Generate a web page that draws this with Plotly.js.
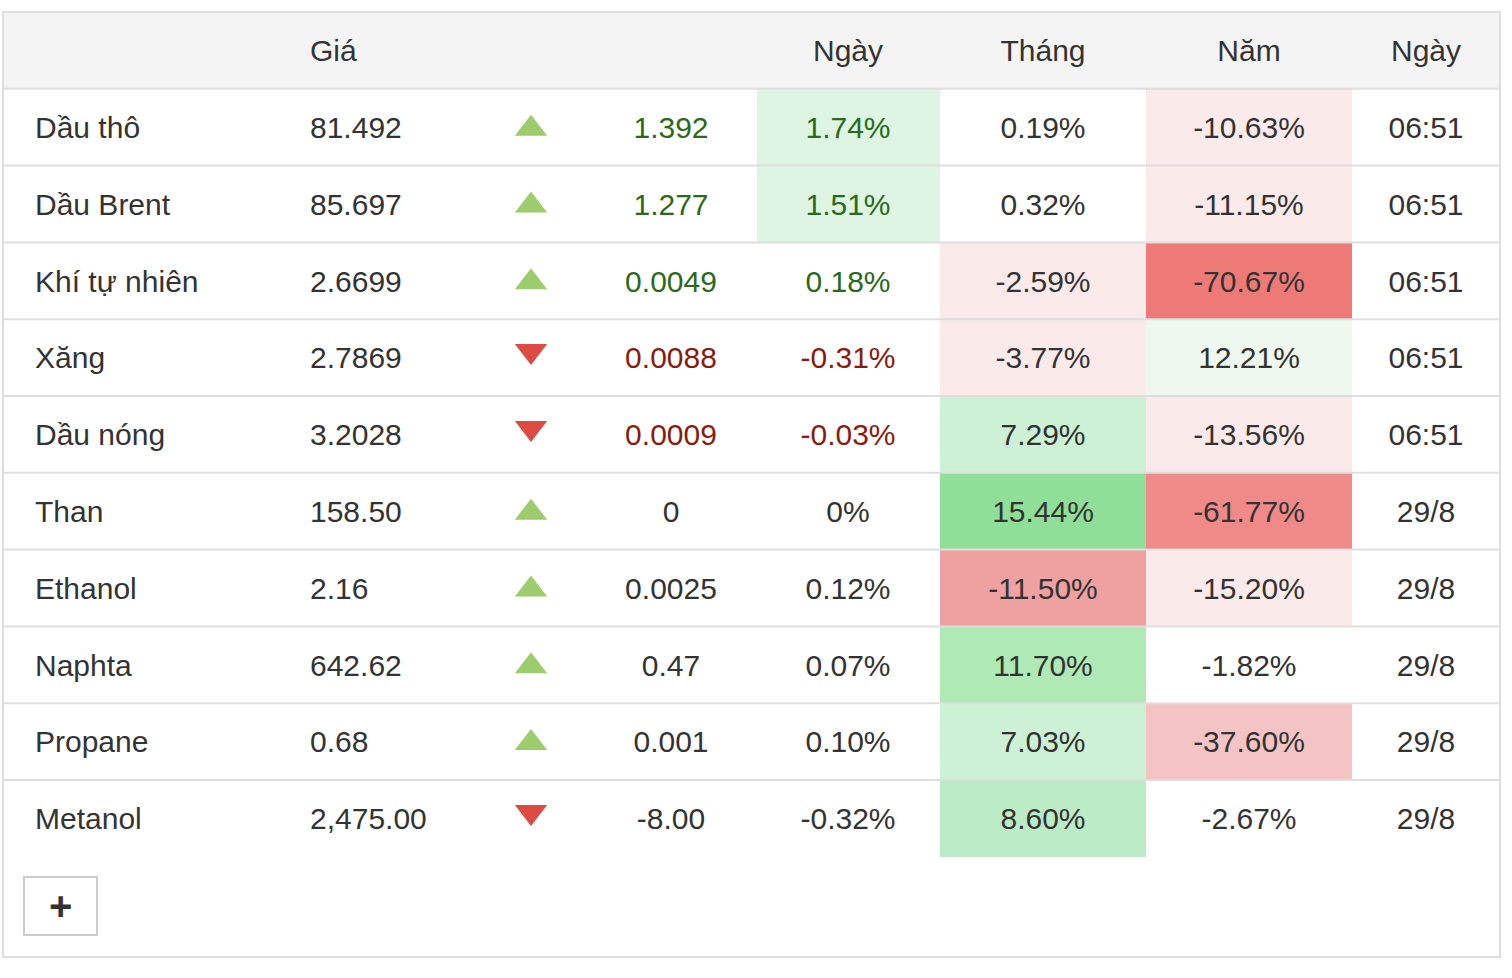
<!DOCTYPE html>
<html><head><meta charset="utf-8">
<script src="https://cdn.plot.ly/plotly-3.0.1.min.js"></script>
<style>html,body{margin:0;padding:0;background:#fff;} #chart{width:1512px;height:978px;}</style>
</head><body><div id="chart"></div>
<script>
// ---------- data ----------
const headerLabels = ['Giá', 'Ngày', 'Tháng', 'Năm', 'Ngày'];
const names = ['Dầu thô', 'Dầu Brent', 'Khí tự nhiên', 'Xăng', 'Dầu nóng', 'Than', 'Ethanol', 'Naphta', 'Propane', 'Metanol'];
const prices = ['81.492', '85.697', '2.6699', '2.7869', '3.2028', '158.50', '2.16', '642.62', '0.68', '2,475.00'];
const directions = ['up', 'up', 'up', 'down', 'down', 'up', 'up', 'up', 'up', 'down'];
const changes = ['1.392', '1.277', '0.0049', '0.0088', '0.0009', '0', '0.0025', '0.47', '0.001', '-8.00'];
const dayPct = ['1.74%', '1.51%', '0.18%', '-0.31%', '-0.03%', '0%', '0.12%', '0.07%', '0.10%', '-0.32%'];
const monthPct = ['0.19%', '0.32%', '-2.59%', '-3.77%', '7.29%', '15.44%', '-11.50%', '11.70%', '7.03%', '8.60%'];
const yearPct = ['-10.63%', '-11.15%', '-70.67%', '12.21%', '-13.56%', '-61.77%', '-15.20%', '-1.82%', '-37.60%', '-2.67%'];
const times = ['06:51', '06:51', '06:51', '06:51', '06:51', '29/8', '29/8', '29/8', '29/8', '29/8'];
const trend = ['pos', 'pos', 'pos', 'neg', 'neg', 'flat', 'flat', 'flat', 'flat', 'flat'];

// ---------- styles ----------
const WHITE = '#ffffff', HEAD = '#f4f4f4';
const dayFill = ['#ddf5e2', '#ddf5e2', WHITE, WHITE, WHITE, WHITE, WHITE, WHITE, WHITE, WHITE];
const monthFill = [WHITE, WHITE, '#fbeaea', '#fbeaea', '#ccf1d4', '#8fdf98', '#eea1a0', '#aee9b6', '#ccf1d4', '#bcecc6'];
const yearFill = ['#fbeaea', '#fbeaea', '#ee7a78', '#eef8ef', '#fbeaea', '#ef8a88', '#fbeaea', WHITE, '#f4c4c4', WHITE];
const trendColor = {pos: '#2b6a1a', neg: '#8b1a10', flat: '#333333'};
const arrowColor = {up: '#9ccc6c', down: '#dd4b45'};
const FONT = 'Liberation Sans, Arial, Helvetica, sans-serif';
const FS = 30, TXT = '#333333';

// ---------- geometry (layout only) ----------
const W = 1512, H = 978;
const L = 3, R = 1500, T = 12, B = 957;
const rowH = 76.8;
const n = names.length;
const textDy = 3.2;
const rowCenter = i => T + rowH * (i + 1) + rowH / 2;
const headCenter = T + rowH / 2;
const colX = {name: 35, price: 310, arrow: 531, change: 671, day: 848, month: 1043, year: 1249, time: 1426};
const fillEdges = [L, 757, 940, 1146, 1352, R];
const yEdges = Array.from({length: n + 2}, (_, i) => T + rowH * i);

// heatmap colour grid
const palette = [];
const idx = c => { let k = palette.indexOf(c); if (k < 0) { palette.push(c); k = palette.length - 1; } return k + 0.5; };
const z = [[HEAD, HEAD, HEAD, HEAD, HEAD].map(idx)];
for (let i = 0; i < n; i++) z.push([WHITE, dayFill[i], monthFill[i], yearFill[i], WHITE].map(idx));
const K = palette.length;
const colorscale = [];
palette.forEach((c, i) => { colorscale.push([i / K, c]); colorscale.push([(i + 1) / K, c]); });

const rowsY = names.map((_, i) => rowCenter(i) + textDy);
const textTrace = (x, text, pos, colors) => ({
  type: 'scatter', mode: 'text', x: x, y: rowsY, text: text, textposition: pos,
  textfont: {family: FONT, size: FS, color: colors}, hoverinfo: 'skip', cliponaxis: false, showlegend: false
});
const constX = v => names.map(() => v);
const trendCols = trend.map(t => trendColor[t]);

const traces = [
  {type: 'heatmap', x: fillEdges, y: yEdges, z: z, zmin: 0, zmax: K, colorscale: colorscale,
   showscale: false, hoverinfo: 'skip'},
  {type: 'scatter', mode: 'text', x: [colX.price, colX.day, colX.month, colX.year, colX.time],
   y: headerLabels.map(() => headCenter + textDy), text: headerLabels,
   textposition: ['middle right', 'middle center', 'middle center', 'middle center', 'middle center'],
   textfont: {family: FONT, size: FS, color: TXT}, hoverinfo: 'skip', cliponaxis: false, showlegend: false},
  textTrace(constX(colX.name), names, 'middle right', TXT),
  textTrace(constX(colX.price), prices, 'middle right', TXT),
  {type: 'scatter', mode: 'markers', x: constX(colX.arrow),
   y: directions.map((d, i) => rowCenter(i) + (d === 'up' ? 1.5 : -6.5)),
   marker: {symbol: directions.map(d => d === 'up' ? 'triangle-up' : 'triangle-down'), size: 28,
            color: directions.map(d => arrowColor[d]), line: {width: 0}},
   hoverinfo: 'skip', cliponaxis: false, showlegend: false},
  textTrace(constX(colX.change), changes, 'middle center', trendCols),
  textTrace(constX(colX.day), dayPct, 'middle center', trendCols),
  textTrace(constX(colX.month), monthPct, 'middle center', TXT),
  textTrace(constX(colX.year), yearPct, 'middle center', TXT),
  textTrace(constX(colX.time), times, 'middle center', TXT)
];

const shapes = [];
for (let i = 1; i <= n; i++) {
  shapes.push({type: 'line', xref: 'x', yref: 'y', x0: L, x1: R, y0: yEdges[i], y1: yEdges[i],
               line: {color: '#dedede', width: 2}, layer: 'above'});
}
shapes.push({type: 'rect', xref: 'x', yref: 'y', x0: L, x1: R, y0: T, y1: B,
             line: {color: '#dedede', width: 2}, fillcolor: 'rgba(0,0,0,0)', layer: 'above'});
shapes.push({type: 'rect', xref: 'x', yref: 'y', x0: 24, x1: 97, y0: 877, y1: 935,
             line: {color: '#cccccc', width: 2}, fillcolor: WHITE, layer: 'above'});

const layout = {
  width: W, height: H, margin: {l: 0, r: 0, t: 0, b: 0, pad: 0},
  paper_bgcolor: WHITE, plot_bgcolor: WHITE, showlegend: false,
  xaxis: {range: [0, W], visible: false, fixedrange: true},
  yaxis: {range: [H, 0], visible: false, fixedrange: true},
  shapes: shapes,
  annotations: [{xref: 'x', yref: 'y', x: 60.5, y: 906, text: '<b>+</b>', showarrow: false,
                 xanchor: 'center', yanchor: 'middle', font: {family: FONT, size: 40, color: TXT}}]
};

Plotly.newPlot('chart', traces, layout, {displayModeBar: false, staticPlot: true});
</script>
</body></html>
